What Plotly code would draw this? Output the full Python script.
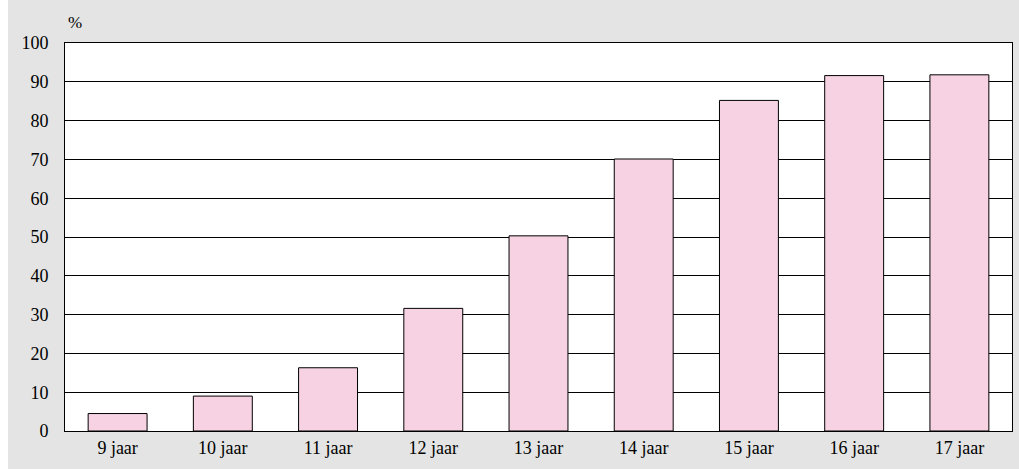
import plotly.graph_objects as go

categories = ["9 jaar", "10 jaar", "11 jaar", "12 jaar", "13 jaar", "14 jaar", "15 jaar", "16 jaar", "17 jaar"]
values = [4.5, 9.0, 16.3, 31.6, 50.3, 70.1, 85.2, 91.6, 91.8]
y_ticks = [0, 10, 20, 30, 40, 50, 60, 70, 80, 90, 100]

# page body keeps an 8px left margin; top margin is removed so the grey reaches the top
W, H = 1011, 469
L, R, T, B = 57, 7, 43, 38
FONT = "Liberation Serif"

fig = go.Figure(go.Bar(
    x=categories, y=values,
    marker=dict(color="#f6d2e3", line=dict(color="#000000", width=1)),
    width=0.56,
    hoverinfo="skip",
))

fig.update_layout(
    width=W, height=H,
    margin=dict(l=L, r=R, t=T, b=B),
    paper_bgcolor="#e3e4e3",
    plot_bgcolor="#ffffff",
    showlegend=False,
    font=dict(family=FONT, size=18, color="#000000"),
    xaxis=dict(
        showgrid=False, showline=True, linecolor="#000000", linewidth=1, mirror=True,
        ticks="", tickfont=dict(family=FONT, size=18),
    ),
    yaxis=dict(
        range=[0, 100], tickvals=y_ticks, showgrid=True, gridcolor="#000000", gridwidth=1,
        showline=True, linecolor="#000000", linewidth=1, mirror=True,
        zeroline=False, ticks="outside", ticklen=12, tickcolor="rgba(0,0,0,0)",
        tickfont=dict(family=FONT, size=18),
    ),
    annotations=[dict(
        text="%", xref="paper", yref="paper", x=0, y=1, xshift=1, yshift=21,
        xanchor="left", yanchor="middle", showarrow=False,
        font=dict(family=FONT, size=17),
    )],
)

fig.write_html(
    "out.html",
    post_script="document.body.style.margin='0 0 0 8px';document.body.style.overflow='hidden';",
)
